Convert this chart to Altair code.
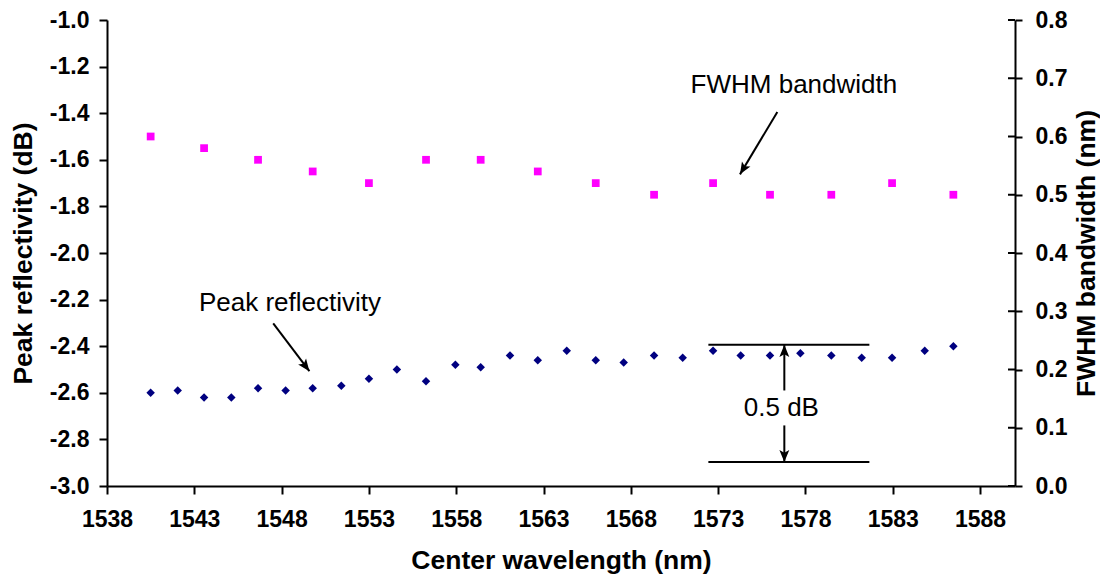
import altair as alt
import pandas as pd

# ---------------- data ----------------
wl_refl = [1540.5, 1542.05, 1543.56, 1545.12, 1546.65, 1548.23, 1549.78, 1551.42,
           1553.0, 1554.6, 1556.27, 1557.95, 1559.4, 1561.08, 1562.67, 1564.33,
           1565.99, 1567.59, 1569.33, 1570.97, 1572.71, 1574.29, 1575.97, 1577.71,
           1579.48, 1581.22, 1582.96, 1584.83, 1586.47]
refl = [-2.60, -2.59, -2.62, -2.62, -2.58, -2.59, -2.58, -2.57,
        -2.54, -2.50, -2.55, -2.48, -2.49, -2.44, -2.46, -2.42,
        -2.46, -2.47, -2.44, -2.45, -2.42, -2.44, -2.44, -2.43,
        -2.44, -2.45, -2.45, -2.42, -2.40]

wl_bw = [1540.5, 1543.56, 1546.65, 1549.78, 1553.0, 1556.27, 1559.4, 1562.67,
         1565.99, 1569.33, 1572.71, 1575.97, 1579.48, 1582.96, 1586.47]
bw = [0.60, 0.58, 0.56, 0.54, 0.52, 0.56, 0.56, 0.54,
      0.52, 0.50, 0.52, 0.50, 0.50, 0.52, 0.50]

x_ticks = [1538, 1543, 1548, 1553, 1558, 1563, 1568, 1573, 1578, 1583, 1588]
refl_ticks = [-3.0, -2.8, -2.6, -2.4, -2.2, -2.0, -1.8, -1.6, -1.4, -1.2, -1.0]
bw_ticks = [0.0, 0.1, 0.2, 0.3, 0.4, 0.5, 0.6, 0.7, 0.8]

# annotations (data units of the reflectivity axis)
seg_x = [1547.52, 1576.79, 1576.79, 1572.44, 1572.44]
seg_y = [-2.302, -2.590, -2.740, -2.394, -2.897]
seg_x2 = [1549.59, 1576.79, 1576.79, 1581.66, 1581.66]
seg_y2 = [-2.507, -2.394, -2.897, -2.394, -2.897]
head_x = [1549.59, 1576.79, 1576.79]
head_y = [-2.507, -2.394, -2.897]
head_angle = [143, 0, 180]
lab_x = [1548.48, 1576.62]
lab_y = [-2.248, -2.70]
lab_text = ["Peak reflectivity", "0.5 dB"]

# annotation (data units of the bandwidth axis)
bw_seg_x, bw_seg_y, bw_seg_x2, bw_seg_y2 = [1576.39], [0.642], [1574.25], [0.535]
bw_head_angle = [211]
bw_lab_x, bw_lab_y, bw_lab_text = [1577.34], [0.674], ["FWHM bandwidth"]

# ---------------- chart ----------------
FONT = "Liberation Sans, Arial, Helvetica, sans-serif"
W, H = 908, 466
ARROW = "M0,0L-0.9,2.2L0,1.7L0.9,2.2Z"

x_scale = alt.Scale(domain=[1538, 1590], nice=False, zero=False)
y_refl_scale = alt.Scale(domain=[-3.0, -1.0], nice=False, zero=False)
y_bw_scale = alt.Scale(domain=[0.0, 0.8], nice=False, zero=False)

df_refl = pd.DataFrame({"wl": wl_refl, "refl": refl})
df_bw = pd.DataFrame({"wl": wl_bw, "bw": bw})
df_seg = pd.DataFrame({"x": seg_x, "y": seg_y, "x2": seg_x2, "y2": seg_y2})
df_head = pd.DataFrame({"x": head_x, "y": head_y, "a": head_angle})
df_lab = pd.DataFrame({"x": lab_x, "y": lab_y, "t": lab_text})
df_bw_seg = pd.DataFrame({"x": bw_seg_x, "y": bw_seg_y, "x2": bw_seg_x2, "y2": bw_seg_y2})
df_bw_head = pd.DataFrame({"x": bw_seg_x2, "y": bw_seg_y2, "a": bw_head_angle})
df_bw_lab = pd.DataFrame({"x": bw_lab_x, "y": bw_lab_y, "t": bw_lab_text})
df_bw_ticks = pd.DataFrame({"t": bw_ticks})

minus_fix = "replace(format(datum.value, '.1f'), '\u2212', '-')"

x_axis = alt.Axis(values=x_ticks, format="d", tickSize=8, labelPadding=14,
                  labelFlush=False, labelOverlap=False,
                  title="Center wavelength (nm)", titlePadding=16,
                  labelFontSize=23, labelFontWeight="bold",
                  titleFontSize=26.5, titleFontWeight="bold")
refl_axis = alt.Axis(values=refl_ticks, labelExpr=minus_fix, tickSize=8,
                     labelFlush=False, labelOverlap=False,
                     labelPadding=10, title="Peak reflectivity (dB)",
                     titlePadding=12, labelFontSize=23, labelFontWeight="bold",
                     titleFontSize=26.5, titleFontWeight="bold")
bw_axis = alt.Axis(orient="right", values=bw_ticks, format=".1f", tickSize=7,
                   labelFlush=False, labelOverlap=False,
                   labelPadding=13, title="FWHM bandwidth (nm)",
                   titleAngle=270, titleBaseline="top", titlePadding=7,
                   labelFontSize=23, labelFontWeight="bold",
                   titleFontSize=26.5, titleFontWeight="bold")

X = lambda f: alt.X(f, scale=x_scale, axis=x_axis)
YR = lambda f: alt.Y(f, scale=y_refl_scale, axis=refl_axis)
YB = lambda f: alt.Y(f, scale=y_bw_scale, axis=bw_axis)

refl_pts = alt.Chart(df_refl).mark_point(
    shape="diamond", filled=True, size=72, color="#000080", opacity=1
).encode(x=X("wl:Q"), y=YR("refl:Q"))

segs = alt.Chart(df_seg).mark_rule(color="black", strokeWidth=2).encode(
    x=X("x:Q"), x2="x2:Q", y=YR("y:Q"), y2="y2:Q",
)
heads = alt.Chart(df_head).mark_point(
    shape=ARROW, filled=True, size=121, color="black", opacity=1, strokeWidth=0
).encode(x=X("x:Q"), y=YR("y:Q"), angle=alt.Angle("a:Q", scale=None))
labs = alt.Chart(df_lab).mark_text(
    font=FONT, fontSize=26, color="black", align="center", baseline="alphabetic"
).encode(x=X("x:Q"), y=YR("y:Q"), text="t:N")

group_refl = alt.layer(refl_pts, segs, heads, labs)

bw_pts = alt.Chart(df_bw).mark_point(
    shape="square", filled=True, size=60, color="#FF00FF", opacity=1
).encode(x=X("wl:Q"), y=YB("bw:Q"))
bw_inner_ticks = alt.Chart(df_bw_ticks).mark_rule(color="black", strokeWidth=2).encode(
    x=alt.value(W - 7), x2=alt.value(W), y=YB("t:Q"),
)
bw_seg = alt.Chart(df_bw_seg).mark_rule(color="black", strokeWidth=2).encode(
    x=X("x:Q"), x2="x2:Q", y=YB("y:Q"), y2="y2:Q",
)
bw_head = alt.Chart(df_bw_head).mark_point(
    shape=ARROW, filled=True, size=121, color="black", opacity=1, strokeWidth=0
).encode(x=X("x:Q"), y=YB("y:Q"), angle=alt.Angle("a:Q", scale=None))
bw_lab = alt.Chart(df_bw_lab).mark_text(
    font=FONT, fontSize=26, color="black", align="center", baseline="alphabetic"
).encode(x=X("x:Q"), y=YB("y:Q"), text="t:N")

group_bw = alt.layer(bw_pts, bw_inner_ticks, bw_seg, bw_head, bw_lab)

chart = alt.layer(group_refl, group_bw).resolve_scale(y="independent").properties(
    width=W, height=H,
    autosize=alt.AutoSizeParams(type="none"),
    padding={"left": 99, "top": 12, "right": 85, "bottom": 89},
    background="white",
).configure_view(stroke=None).configure_axis(
    labelFont=FONT, titleFont=FONT, labelColor="black", titleColor="black",
    domainColor="black", tickColor="black", domainWidth=2, tickWidth=2, grid=False,
)

chart.save("out.html", embed_options={"renderer": "svg", "actions": False})
